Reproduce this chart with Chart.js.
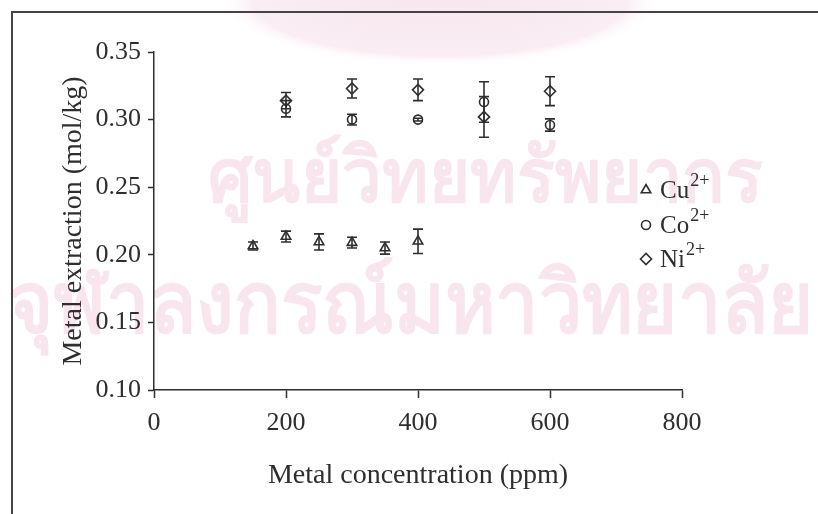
<!DOCTYPE html>
<html>
<head>
<meta charset="utf-8">
<script src="https://cdn.jsdelivr.net/npm/chart.js@4.4.1/dist/chart.umd.min.js"></script>
<style>
  html, body { margin: 0; padding: 0; background: #fff; }
  #wrap { width: 818px; height: 514px; }
</style>
</head>
<body>
<div id="wrap"><canvas id="c" width="818" height="514"></canvas></div>
<script>
// data
const cuX = [150, 200, 250, 300, 350, 400];
const cuY = [0.2065, 0.2135, 0.2095, 0.209, 0.205, 0.210];
const cuErr = [0.003, 0.004, 0.006, 0.004, 0.0045, 0.009];

const coX = [200, 300, 400, 500, 600];
const coY = [0.308, 0.300, 0.300, 0.313, 0.296];
const coErr = [0.006, 0.004, 0.001, 0.015, 0.0045];

const niX = [200, 300, 400, 500, 600];
const niY = [0.314, 0.323, 0.322, 0.302, 0.321];
const niErr = [0.006, 0.007, 0.008, 0.015, 0.0107];

const seriesNames = ['Cu', 'Co', 'Ni'];
const seriesCharge = '2+';
const xTicks = [0, 200, 400, 600, 800];
const yTicks = [0.10, 0.15, 0.20, 0.25, 0.30, 0.35];

const ink = '#2e2e2e';
const serif = "'Liberation Serif', 'Times New Roman', serif";

function pts(xs, ys) {
    return xs.map((x, i) => ({ x: x, y: ys[i] }));
}

const errs = [cuErr, coErr, niErr];

// fit a line of watermark text into a given width
function stretchText(ctx, text, x, y, w) {
    const m = ctx.measureText(text).width;
    ctx.save();
    ctx.translate(x, y);
    ctx.scale(w / m, 1);
    ctx.fillText(text, 0, 0);
    ctx.restore();
}

// background: frame + faint watermark
const backdrop = {
    id: 'backdrop',
    beforeDraw(chart) {
        const ctx = chart.ctx;
        ctx.save();
        ctx.fillStyle = '#fff';
        ctx.fillRect(0, 0, chart.width, chart.height);
        // pale pink blob at the top
        ctx.save();
        ctx.translate(440, 0);
        ctx.scale(1, 0.3);
        const g = ctx.createRadialGradient(0, 0, 0, 0, 0, 220);
        g.addColorStop(0, 'rgba(248,230,239,1)');
        g.addColorStop(0.85, 'rgba(249,235,242,0.9)');
        g.addColorStop(1, 'rgba(255,255,255,0)');
        ctx.fillStyle = g;
        ctx.beginPath();
        ctx.arc(0, 0, 220, 0, Math.PI * 2);
        ctx.fill();
        ctx.restore();
        // Thai watermark
        ctx.fillStyle = 'rgb(248,229,238)';
        ctx.textBaseline = 'alphabetic';
        ctx.textAlign = 'left';
        ctx.font = "bold 76px 'Noto Sans', 'DejaVu Sans', sans-serif";
        stretchText(ctx, 'ศูนย์วิทยทรัพยากร', 208, 202, 555);
        ctx.font = "bold 84px 'Noto Sans', 'DejaVu Sans', sans-serif";
        stretchText(ctx, 'จุฬาลงกรณ์มหาวิทยาลัย', 8, 332, 805);
        // frame
        ctx.strokeStyle = '#444';
        ctx.lineWidth = 2;
        ctx.beginPath();
        ctx.moveTo(12, chart.height);
        ctx.lineTo(12, 12);
        ctx.lineTo(chart.width, 12);
        ctx.stroke();
        ctx.restore();
    }
};

// error bars from the scales
const errorBars = {
    id: 'errorBars',
    afterDatasetsDraw(chart) {
        const ctx = chart.ctx;
        const xs = chart.scales.x, ys = chart.scales.y;
        ctx.save();
        ctx.strokeStyle = ink;
        ctx.lineWidth = 1.6;
        chart.data.datasets.forEach((ds, di) => {
            ds.data.forEach((p, i) => {
                const e = errs[di][i];
                const px = xs.getPixelForValue(p.x);
                const top = ys.getPixelForValue(p.y + e);
                const bot = ys.getPixelForValue(p.y - e);
                ctx.beginPath();
                ctx.moveTo(px, top); ctx.lineTo(px, bot);
                ctx.moveTo(px - 5, top); ctx.lineTo(px + 5, top);
                ctx.moveTo(px - 5, bot); ctx.lineTo(px + 5, bot);
                ctx.stroke();
            });
        });
        ctx.restore();
    }
};

// legend with superscript charges
const chemLegend = {
    id: 'chemLegend',
    afterDraw(chart) {
        const ctx = chart.ctx;
        ctx.save();
        const rows = [190, 225, 259];
        chart.data.datasets.forEach((ds, i) => {
            const y = rows[i];
            ctx.fillStyle = 'rgba(0,0,0,0)';
            ctx.strokeStyle = ink;
            ctx.lineWidth = 1.6;
            Chart.helpers.drawPoint(ctx, {
                pointStyle: ds.pointStyle, radius: ds.pointRadius,
                borderWidth: 1.6, rotation: 0
            }, 646, y);
            ctx.fillStyle = ink;
            ctx.textBaseline = 'middle';
            ctx.textAlign = 'left';
            ctx.font = '25px ' + serif;
            ctx.fillText(seriesNames[i], 660, y + 1);
            const w = ctx.measureText(seriesNames[i]).width;
            ctx.font = '18px ' + serif;
            ctx.fillText(seriesCharge, 660 + w + 1, y - 9);
        });
        ctx.restore();
    }
};

function makeSet(name, data, style, r) {
    return {
        label: name,
        data: data,
        pointStyle: style,
        pointRadius: r,
        pointHoverRadius: r,
        pointBorderWidth: 1.6,
        pointBorderColor: ink,
        pointBackgroundColor: 'rgba(0,0,0,0)',
        showLine: false
    };
}

new Chart(document.getElementById('c'), {
    type: 'scatter',
    data: {
        datasets: [
            makeSet('Cu2+', pts(cuX, cuY), 'triangle', 5.5),
            makeSet('Co2+', pts(coX, coY), 'circle', 4.5),
            makeSet('Ni2+', pts(niX, niY), 'rectRot', 5.5)
        ]
    },
    options: {
        responsive: false,
        animation: false,
        devicePixelRatio: 1,
        layout: { padding: { top: 52, right: 136, bottom: 0, left: 0 } },
        plugins: {
            legend: { display: false },
            tooltip: { enabled: false }
        },
        scales: {
            x: {
                type: 'linear',
                min: 0, max: 800,
                afterBuildTicks: s => { s.ticks = xTicks.map(v => ({ value: v })); },
                afterFit: s => { s.height = 124; },
                grid: { drawOnChartArea: false, tickLength: 8, tickColor: ink, tickWidth: 1.5 },
                border: { color: ink, width: 1.5 },
                ticks: { color: ink, padding: 10, font: { family: serif, size: 26 } },
                title: {
                    display: true, text: 'Metal concentration (ppm)', color: ink,
                    font: { family: serif, size: 28 }, padding: { top: 0, bottom: 22 }
                }
            },
            y: {
                type: 'linear',
                min: 0.10, max: 0.35,
                afterBuildTicks: s => { s.ticks = yTicks.map(v => ({ value: v })); },
                afterFit: s => { s.width = 154; },
                grid: { drawOnChartArea: false, tickLength: 6, tickColor: ink, tickWidth: 1.5 },
                border: { color: ink, width: 1.5 },
                ticks: {
                    color: ink, padding: 7, font: { family: serif, size: 26 },
                    callback: v => v.toFixed(2)
                },
                title: {
                    display: true, text: 'Metal extraction (mol/kg)', color: ink,
                    font: { family: serif, size: 28 }, padding: { top: 57, bottom: 0 }
                }
            }
        }
    },
    plugins: [backdrop, errorBars, chemLegend]
});
</script>
</body>
</html>
